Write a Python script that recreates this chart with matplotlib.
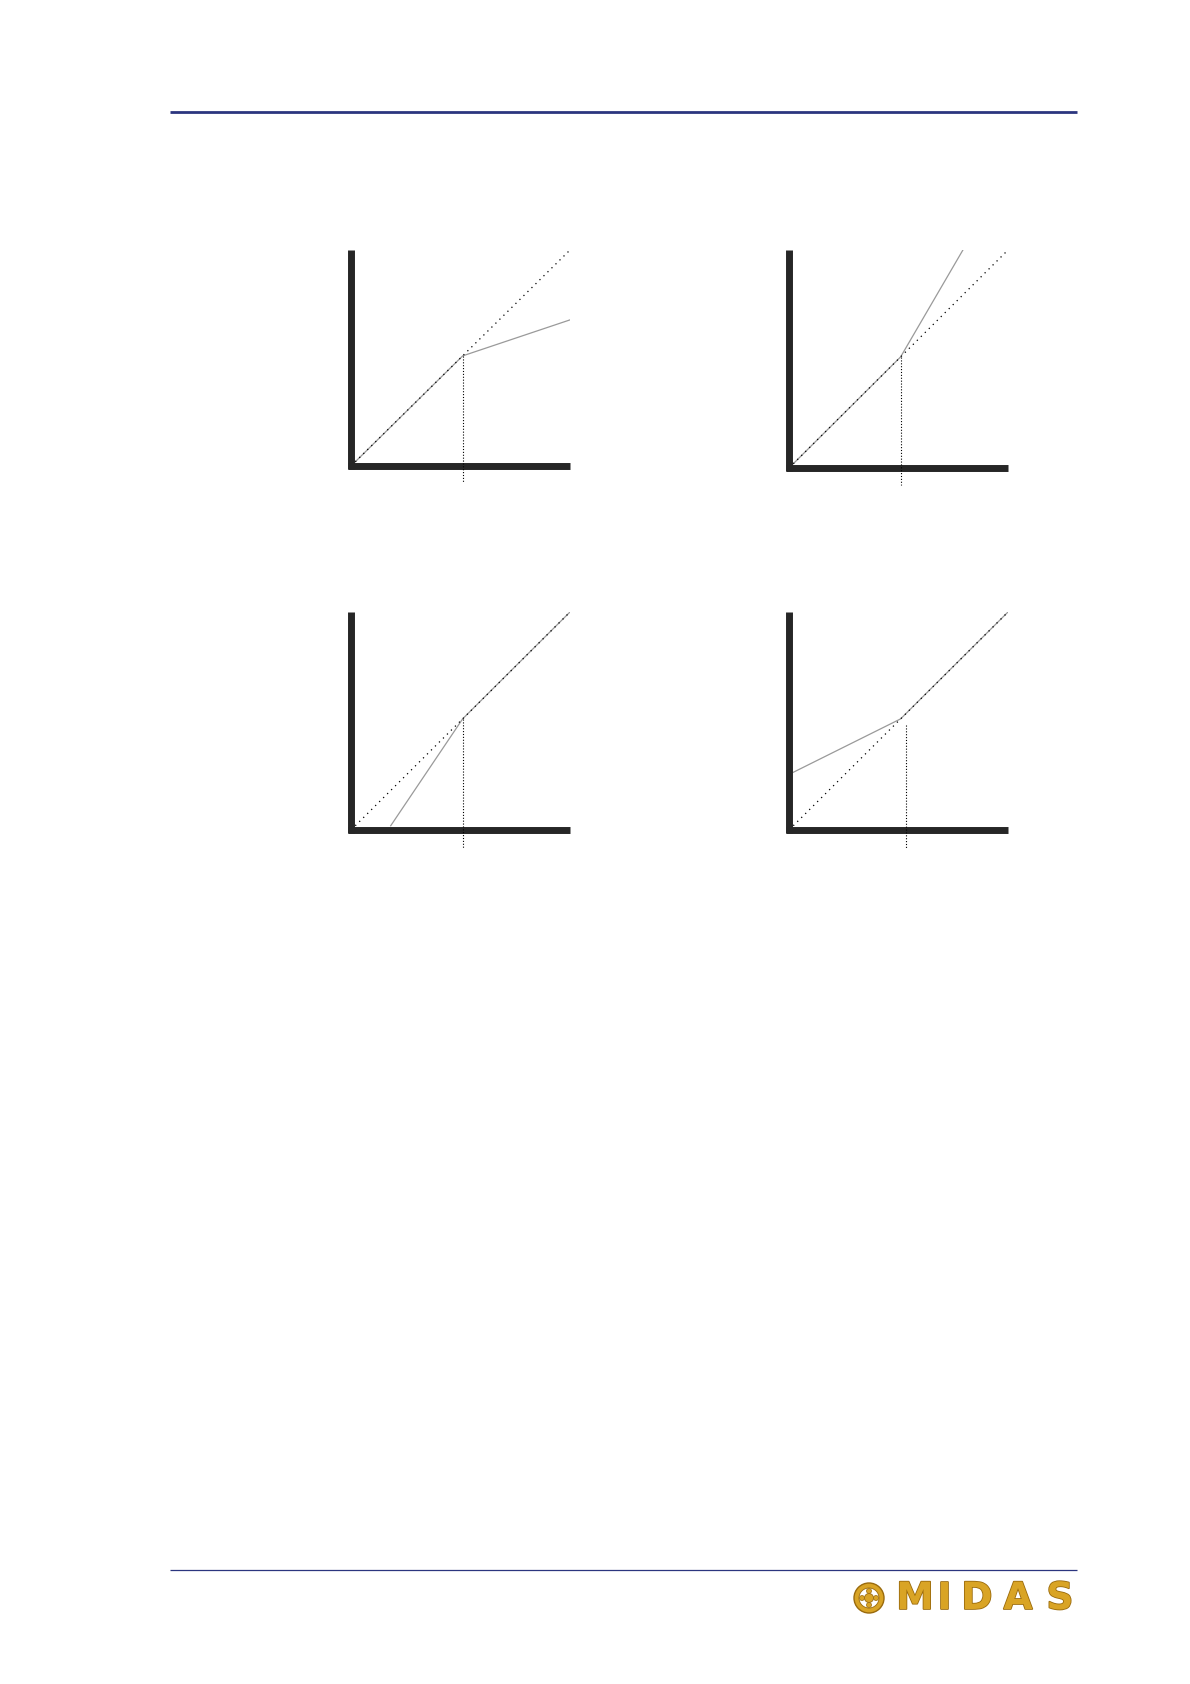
import matplotlib
matplotlib.use("Agg")
import matplotlib.pyplot as plt
from matplotlib.patches import Circle
import matplotlib.patheffects as pe

# 1:1 reference line (dotted)
diag_x = [0, 100]
diag_y = [0, 100]

# transfer curves (solid grey), one per panel
comp_x = [0, 50, 100]          # compressor above threshold
comp_y = [0, 50, 67]
exp_up_x = [0, 50, 79]         # upward expander above threshold
exp_up_y = [0, 50, 100]
exp_down_x = [16.5, 50, 100]   # downward expander below threshold
exp_down_y = [0, 50, 100]
comp_up_x = [0, 50, 100]       # upward compressor below threshold
comp_up_y = [25, 50, 100]

# threshold markers (vertical dotted)
thr_x = [50, 50, 50, 52.5]
thr_top = [50, 50, 50, 47]
thr_bottom = [-9.5, -10, -10.5, -11]

curves = [(comp_x, comp_y), (exp_up_x, exp_up_y),
          (exp_down_x, exp_down_y), (comp_up_x, comp_up_y)]

W, H = 1190, 1684
fig = plt.figure(figsize=(W / 100, H / 100), dpi=100)

# page furniture: header / footer rules and logo
bg = fig.add_axes([0, 0, 1, 1])
bg.set_xlim(0, W)
bg.set_ylim(H, 0)
bg.axis("off")
navy = "#2b357f"
bg.plot([170, 1077], [112, 112], color=navy, lw=2.0, solid_capstyle="butt")
bg.plot([170, 1077], [1570, 1570], color=navy, lw=0.9, solid_capstyle="butt")

gold = "#d9a425"
dark_gold = "#9a6a0c"
bg.add_patch(Circle((869, 1598), 15, fc=gold, ec=dark_gold, lw=1))
bg.add_patch(Circle((869, 1598), 10, fc="white", ec=dark_gold, lw=0.6))
bg.add_patch(Circle((869, 1598), 4.5, fc=gold, ec=dark_gold, lw=0.6))
for dx, dy in [(0, -7), (0, 7), (-7, 0), (7, 0)]:
    bg.add_patch(Circle((869 + dx, 1598 + dy), 2.5, fc=gold, ec=dark_gold, lw=0.5))

logo = "MIDAS"
logo_pos = [915, 945, 977, 1018, 1060]
for ch, x in zip(logo, logo_pos):
    bg.text(x, 1599, ch, ha="center", va="center", fontsize=27,
            fontweight="bold", family="DejaVu Sans", color=gold,
            path_effects=[pe.withStroke(linewidth=1.2, foreground=dark_gold)])

# panel boxes in page pixels: left, bottom, right, top
boxes = [(351, 466, 570, 250), (789, 468, 1008, 250),
         (351, 830, 570, 612), (789, 830, 1008, 612)]

axis_col = "#262626"
axis_lw = 5.0
half = axis_lw / 72 * 100 / 2  # half the axis width in pixels
for i, (l, b, r, t) in enumerate(boxes):
    w, h = r - l, b - t
    ax = fig.add_axes([l / W, (H - b) / H, w / W, h / H])
    ax.set_xlim(-2, 100)
    ax.set_ylim(-2, 100)
    ax.set_facecolor("none")
    for s in ax.spines.values():
        s.set_visible(False)
    ax.set_xticks([])
    ax.set_yticks([])

    # heavy axes, drawn with butt ends so they stop where the originals do
    ax.plot([0, 0], [-half / h, 1], transform=ax.transAxes, color=axis_col,
            lw=axis_lw, solid_capstyle="butt", clip_on=False, zorder=5)
    ax.plot([-half / w, 1], [0, 0], transform=ax.transAxes, color=axis_col,
            lw=axis_lw, solid_capstyle="butt", clip_on=False, zorder=5)

    cx, cy = curves[i]
    ax.plot(cx, cy, color="#9a9a9a", lw=0.9, zorder=2)
    ax.plot(diag_x, diag_y, color="black", lw=0.9,
            linestyle=(0, (1, 3.5)), zorder=3)
    ax.plot([thr_x[i], thr_x[i]], [thr_top[i], thr_bottom[i]],
            color="black", lw=0.8, linestyle=(0, (1, 1.6)),
            clip_on=False, zorder=6)

fig.savefig("out.png", dpi=100)
